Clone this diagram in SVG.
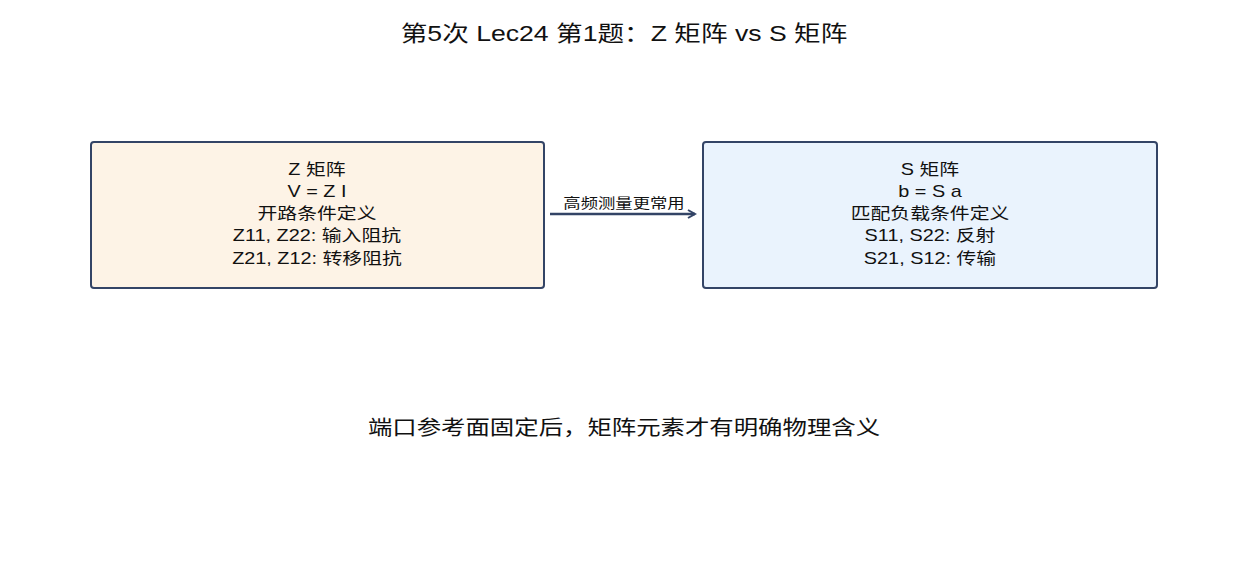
<svg xmlns="http://www.w3.org/2000/svg" width="1248" height="576" viewBox="0 0 1248 576">
<style>
text{font-family:"Liberation Sans","Noto Sans CJK SC",sans-serif;fill:#111;text-anchor:middle}
.box{stroke:#334466;stroke-width:2}
.nt{font-size:16px}
</style>
<defs>
<marker id="ah" markerWidth="10" markerHeight="10" refX="8" refY="5" orient="auto" markerUnits="userSpaceOnUse">
<path d="M1,1 L8,5 L1,9" fill="none" stroke="#334466" stroke-width="2"/>
</marker>
</defs>
<rect width="1248" height="576" fill="#fff"/>
<g transform="translate(624,0) scale(1.21,1)">
<text x="0" y="41" font-size="22">第5次 Lec24 第1题：Z 矩阵 vs S 矩阵</text>
</g>
<g id="connectors">
<line x1="550" y1="214" x2="695" y2="214" stroke="#334466" stroke-width="2.5" marker-end="url(#ah)"/>
<g transform="translate(624,0) scale(1.24,1)">
<text x="0" y="208" font-size="14">高频测量更常用</text>
</g>
</g>
<g id="z">
<rect class="box" x="91" y="142" width="453" height="146" rx="3" fill="#fdf3e6"/>
<g transform="translate(317,0) scale(1.24,1)">
<text class="nt" x="0" y="175">Z 矩阵</text>
<text class="nt" x="0" y="197">V = Z I</text>
<text class="nt" x="0" y="219">开路条件定义</text>
<text class="nt" x="0" y="241">Z11, Z22: 输入阻抗</text>
<text class="nt" x="0" y="264">Z21, Z12: 转移阻抗</text>
</g>
</g>
<g id="s">
<rect class="box" x="703" y="142" width="454" height="146" rx="3" fill="#eaf3fd"/>
<g transform="translate(930,0) scale(1.24,1)">
<text class="nt" x="0" y="175">S 矩阵</text>
<text class="nt" x="0" y="197">b = S a</text>
<text class="nt" x="0" y="219">匹配负载条件定义</text>
<text class="nt" x="0" y="241">S11, S22: 反射</text>
<text class="nt" x="0" y="264">S21, S12: 传输</text>
</g>
</g>
<g transform="translate(624,0) scale(1.22,1)">
<text x="0" y="435" font-size="20">端口参考面固定后，矩阵元素才有明确物理含义</text>
</g>
</svg>
